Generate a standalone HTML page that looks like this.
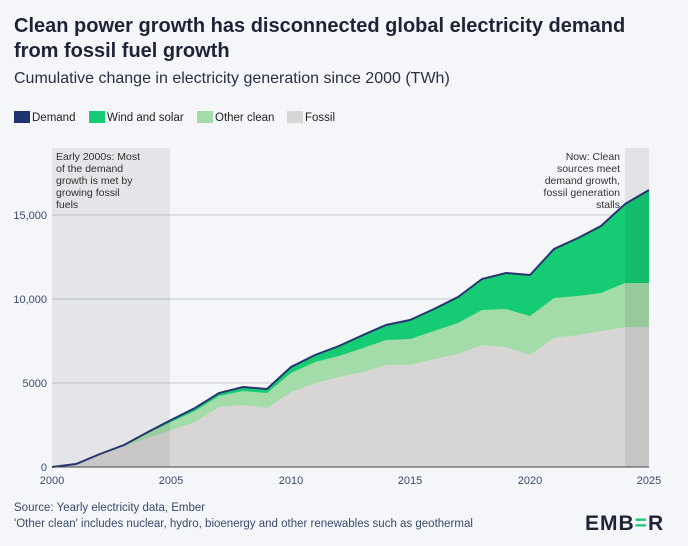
<!DOCTYPE html><html><head><style>
body{margin:0;width:688px;height:546px;background:#f4f6fa;font-family:"Liberation Sans",sans-serif;overflow:hidden;position:relative}
.t{position:absolute;left:14px;top:14px;font-size:20px;font-weight:bold;color:#1e2336;line-height:25px}
.s{position:absolute;left:14px;top:70px;font-size:16px;color:#2a2f45}
.f{position:absolute;left:14px;font-size:11.5px;color:#3a4a6a}
</style></head><body>
<div class="t">Clean power growth has disconnected global electricity demand<br>from fossil fuel growth</div>
<div class="s">Cumulative change in electricity generation since 2000 (TWh)</div>
<svg width="688" height="546" style="position:absolute;left:0;top:0" font-family="Liberation Sans, sans-serif">
<g font-size="11.5" fill="#222">
<rect x="14" y="111" width="16" height="12" fill="#1f3372"/><text x="32" y="121">Demand</text>
<rect x="89" y="111" width="16" height="12" fill="#15cc74"/><text x="107" y="121">Wind and solar</text>
<rect x="197" y="111" width="16" height="12" fill="#a3dca8"/><text x="215" y="121">Other clean</text>
<rect x="287" y="111" width="16" height="12" fill="#d8d5d5"/><text x="305" y="121">Fossil</text>
</g>
<g font-size="10.5" fill="#333">
<text x="56" y="160">Early 2000s: Most</text><text x="56" y="172">of the demand</text><text x="56" y="184">growth is met by</text><text x="56" y="196">growing fossil</text><text x="56" y="208">fuels</text>
<g text-anchor="end"><text x="620" y="160">Now: Clean</text><text x="620" y="172">sources meet</text><text x="620" y="184">demand growth,</text><text x="620" y="196">fossil generation</text><text x="620" y="208">stalls</text></g>
</g>
<g stroke="#c4c9d4" stroke-width="1"><line x1="52" y1="215" x2="649" y2="215"/><line x1="52" y1="299" x2="649" y2="299"/><line x1="52" y1="383" x2="649" y2="383"/></g>
<polygon fill="#15cc74" points="52,467 76,464 100,454 124,445 148,432 171,420 195,408 219,393 243,387 267,389 291,367 315,355 339,346 363,335 386,325 410,320 434,309 458,297 482,279 506,273 530,275 554,249 578,238 601,226 625,204 649,190 649,467"/>
<polygon fill="#a3dca8" points="52,467 76,464 100,454 124,445 148,433 171,422 195,411 219,396 243,391 267,393 291,373 315,362 339,356 363,348 386,340 410,339 434,331 458,323 482,310 506,309 530,316 554,298 578,296 601,293 625,283 649,283 649,467"/>
<polygon fill="#d8d5d5" points="52,467 76,464 100,454 124,446 148,438 171,430 195,422 219,407 243,405 267,408 291,392 315,383 339,377 363,372 386,365 410,365 434,359 458,354 482,345 506,347 530,355 554,338 578,335 601,331 625,327 649,327 649,467"/>
<rect x="52" y="148" width="118" height="319" fill="#000" opacity="0.065"/>
<rect x="625" y="148" width="24" height="319" fill="#000" opacity="0.08"/>
<polyline fill="none" stroke="#25356e" stroke-width="2" points="52,467 76,464 100,454 124,445 148,432 171,420 195,408 219,393 243,387 267,389 291,367 315,355 339,346 363,335 386,325 410,320 434,309 458,297 482,279 506,273 530,275 554,249 578,238 601,226 625,204 649,190"/>
<line x1="52" y1="467" x2="649" y2="467" stroke="#444" stroke-width="1"/>
<g font-size="11" fill="#3a4a6a" text-anchor="end"><text x="47" y="219">15,000</text><text x="47" y="303">10,000</text><text x="47" y="387">5000</text><text x="47" y="471">0</text></g>
<g font-size="11" fill="#3a4a6a" text-anchor="middle"><text x="52" y="484">2000</text><text x="171" y="484">2005</text><text x="291" y="484">2010</text><text x="410" y="484">2015</text><text x="530" y="484">2020</text><text x="649" y="484">2025</text></g>
<text x="585" y="530" font-size="21" font-weight="bold" fill="#1e2336" letter-spacing="1">EMB<tspan fill="#15cc74">=</tspan>R</text>
</svg>
<div class="f" style="top:502px">Source: Yearly electricity data, Ember</div>
<div class="f" style="top:518px">'Other clean' includes nuclear, hydro, bioenergy and other renewables such as geothermal</div>
</body></html>
